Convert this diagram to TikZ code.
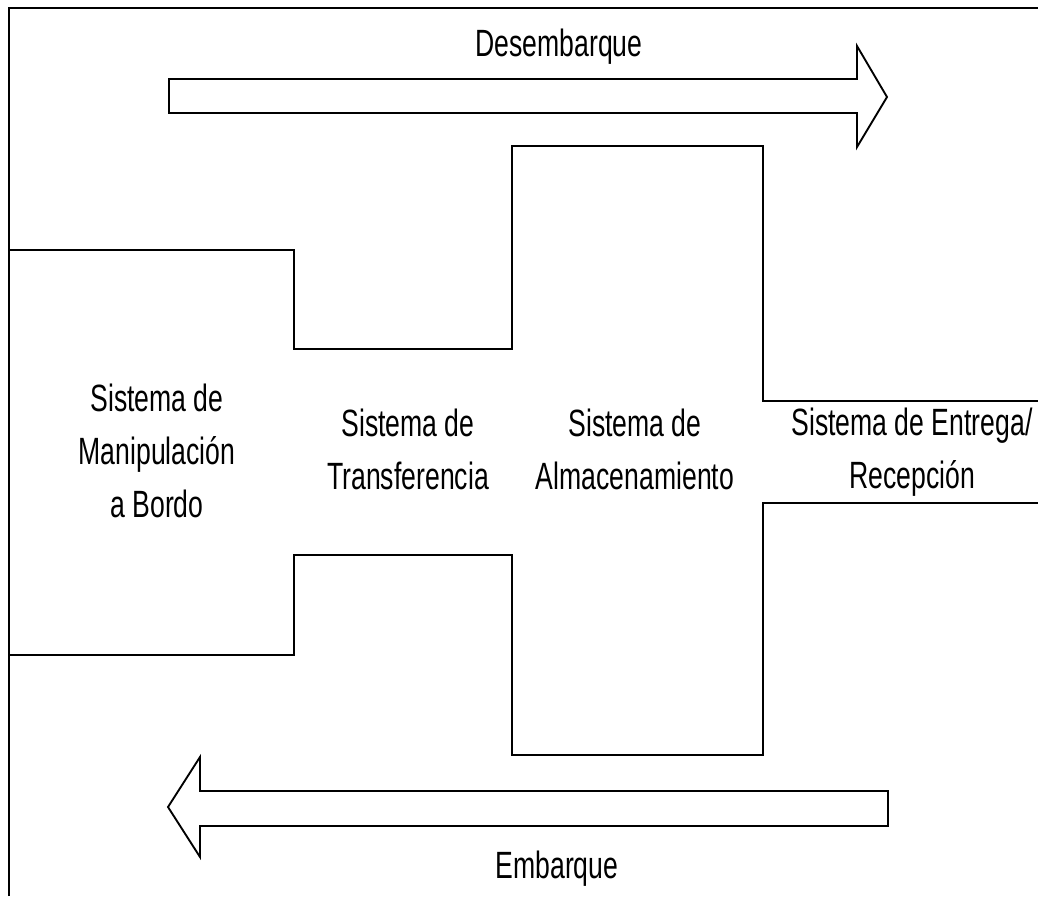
\documentclass[tikz,border=0pt]{standalone}
\usepackage{fontspec}
\setmainfont[FakeStretch=0.7]{Liberation Sans}

\begin{document}
\begin{tikzpicture}[x=0.75pt,y={(0pt,-0.75pt)},line width=1.4pt,line join=miter,
    lbl/.style={align=center,font=\fontsize{28.5}{39.75}\selectfont},
    blockarrow/.style={draw,fill=white}]
        \useasboundingbox (0,0) rectangle (1038,896);
        \draw (9,896) -- (9,8) -- (1038,8); % marco

        % contorno superior e inferior de los sistemas
        \draw (9,250) -- (294,250) -- (294,349) -- (512,349) -- (512,146)
              -- (763,146) -- (763,401) -- (1038,401);
        \draw (9,655) -- (294,655) -- (294,555) -- (512,555) -- (512,755)
              -- (763,755) -- (763,503) -- (1038,503);

        % flechas de flujo
        \draw[blockarrow] (169,79) -- (857,79) -- (857,46) -- (887,97)
              -- (857,147) -- (857,113) -- (169,113) -- cycle;
        \draw[blockarrow] (888,791) -- (200,791) -- (200,757) -- (168,807)
              -- (200,857) -- (200,826) -- (888,826) -- cycle;

        \node[lbl,anchor=base] (desemb) at (559,56) {Desembarque};
        \node[lbl,anchor=base] (embarq) at (557,878) {Embarque};

        \node[lbl] (manip) at (157,451) {Sistema de\\Manipulación\\a Bordo};
        \node[lbl] (transf) at (408,449) {Sistema de\\Transferencia};
        \node[lbl] (almac) at (635,449) {Sistema de\\Almacenamiento};
        \node[lbl] (entrega) at (912,452) {Sistema de Entrega/\\Recepción};
\end{tikzpicture}
\end{document}
